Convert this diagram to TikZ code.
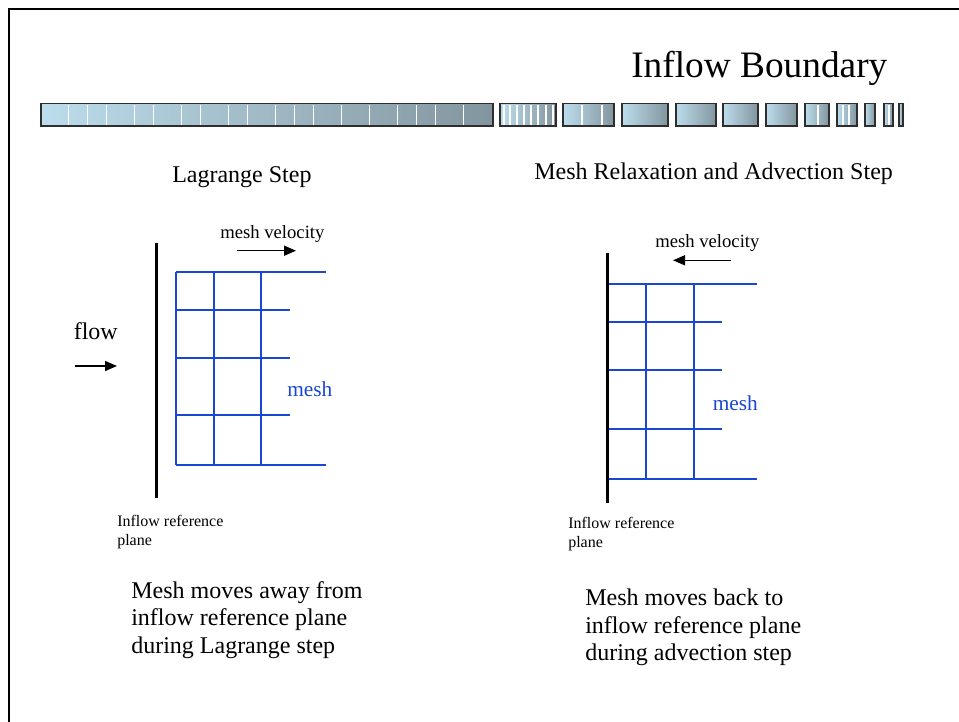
\documentclass[tikz,border=0pt]{standalone}
\usepackage{fontspec}
\setmainfont{Liberation Serif}
\usetikzlibrary{arrows.meta}

\definecolor{barlight}{HTML}{BCDDEC}
\definecolor{bardark}{HTML}{82959E}
\definecolor{barframe}{HTML}{2E2E2E}
\definecolor{meshblue}{RGB}{25,70,210}

\tikzset{
  txt/.style={inner sep=0pt, anchor=base west, text=black},
  para/.style={inner sep=0pt, anchor=north west, align=left},
  meshline/.style={draw=meshblue, line width=1.5pt},
  wall/.style={draw=black, line width=2.6pt},
  motion/.style={draw=black, line width=1.1pt, -{Triangle[length=9pt,width=7.5pt]}},
  barbox/.style={draw=barframe, line width=1.3pt},
  divider/.style={draw=white, line width=0.8pt}
}

\begin{document}
\begin{tikzpicture}[x=0.75pt,y=-0.75pt]
\useasboundingbox (0,0) rectangle (959,721);

% slide frame
\draw[line width=2.2pt, black] (9,725) -- (9,9) -- (965,9);

% title
\node[txt, font=\fontsize{28}{32}\selectfont] (title) at (631,77) {Inflow Boundary};

% decorative segmented bar
\shade[left color=barlight, right color=bardark] (41,103.5) rectangle (493,126);
\foreach \xx in {68.3,87.3,106.7,134.7,153.7,181.7,200.7,228.7,247.7,275.7,294.7,313.7,341.7,369.3,397.3,416.3,435.3,463.3}
  \draw[divider] (\xx,104.5) -- (\xx,125);
\draw[barbox] (41,103.5) rectangle (493,126);

\foreach \a/\b in {500/556,563/614,622/668,676/716,723/758,766/797,805/829,837/857,865/875,884/893,899/903}
  \shade[left color=barlight, right color=bardark] (\a,103.5) rectangle (\b,126);
\foreach \xx in {504,510,517,524,531,538,546,553,582,602,818,843,849,889}
  \draw[divider] (\xx,104.5) -- (\xx,125);
\foreach \a/\b in {500/556,563/614,622/668,676/716,723/758,766/797,805/829,837/857,865/875,884/893,899/903}
  \draw[barbox] (\a,103.5) rectangle (\b,126);

% section headings
\node[txt, font=\fontsize{18}{21}\selectfont] (hleft) at (172,182) {Lagrange Step};
\node[txt, font=\fontsize{18}{21}\selectfont] (hright) at (534,179) {Mesh Relaxation and Advection Step};

% ---------------- Lagrange step ----------------
\coordinate (wallAtop) at (156.5,243);
\coordinate (wallAbot) at (156.5,498);
\draw[wall] (wallAtop) -- (wallAbot);

\node[txt, font=\fontsize{14}{16}\selectfont] (mvA) at (220,238) {mesh velocity};
\coordinate (mvAs) at (236.5,250.7);
\coordinate (mvAe) at (296,250.7);
\draw[motion] (mvAs) -- (mvAe);

\node[txt, font=\fontsize{18}{21}\selectfont] (flow) at (73.5,339) {flow};
\coordinate (flowS) at (75,366);
\coordinate (flowE) at (117,366);
\draw[motion] (flowS) -- (flowE);

% mesh A
\draw[meshline] (175.7,271.7) -- (325.7,271.7);
\draw[meshline] (175.7,309.7) -- (290,309.7);
\draw[meshline] (175.7,357.7) -- (290,357.7);
\draw[meshline] (175.7,415) -- (290,415);
\draw[meshline] (175.7,465) -- (325.7,465);
\foreach \xx in {175.7,213.7,261.3}
  \draw[meshline] (\xx,271.7) -- (\xx,465);
\node[txt, text=meshblue, font=\fontsize{16}{18}\selectfont] (meshA) at (287,396) {mesh};

\node[para, font=\fontsize{12}{14.4}\selectfont] (planeA) at (117,515) {Inflow reference\\plane};

\node[para, font=\fontsize{18}{20.6}\selectfont] (noteA) at (131,581)
  {Mesh moves away from\\inflow reference plane\\during Lagrange step};

% ---------------- relaxation / advection step ----------------
\coordinate (wallBtop) at (607.3,253);
\coordinate (wallBbot) at (607.3,503);
\draw[wall] (wallBtop) -- (wallBbot);

\node[txt, font=\fontsize{14}{16}\selectfont] (mvB) at (655,247.5) {mesh velocity};
\coordinate (mvBs) at (731,260.3);
\coordinate (mvBe) at (673,260.3);
\draw[motion] (mvBs) -- (mvBe);

% mesh B
\draw[meshline] (608.5,284.3) -- (757.3,284.3);
\draw[meshline] (608.5,322.3) -- (722.3,322.3);
\draw[meshline] (608.5,370.3) -- (722.3,370.3);
\draw[meshline] (608.5,428.7) -- (722.3,428.7);
\draw[meshline] (608.5,478.7) -- (757.3,478.7);
\foreach \xx in {646,693.7}
  \draw[meshline] (\xx,284.3) -- (\xx,478.7);
\node[txt, text=meshblue, font=\fontsize{16}{18}\selectfont] (meshB) at (712.5,410.7) {mesh};

\node[para, font=\fontsize{12}{14.4}\selectfont] (planeB) at (568,517) {Inflow reference\\plane};

\node[para, font=\fontsize{18}{20.6}\selectfont] (noteB) at (585,589)
  {Mesh moves back to\\inflow reference plane\\during advection step};
\end{tikzpicture}
\end{document}
